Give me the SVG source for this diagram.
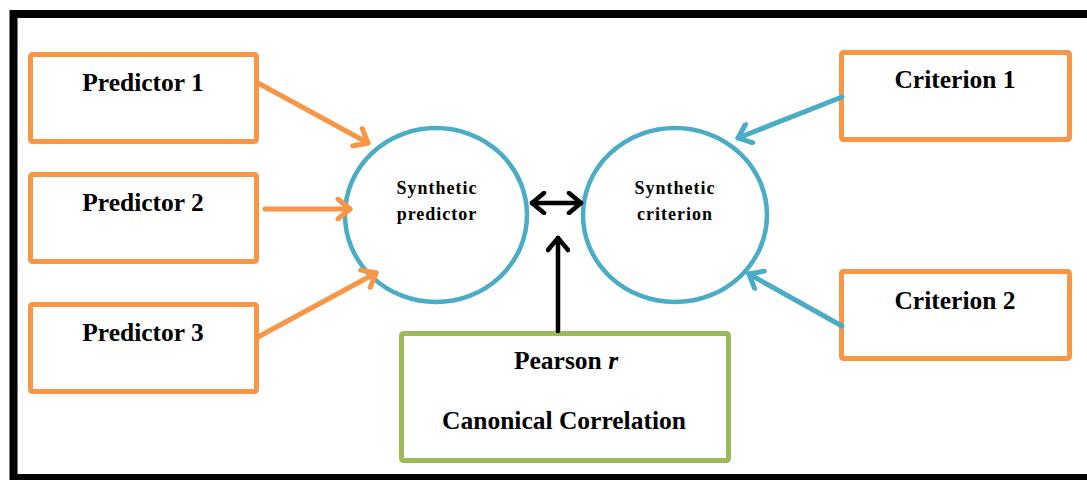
<svg xmlns="http://www.w3.org/2000/svg" width="1087" height="480" viewBox="0 0 1087 480">
  <style>
    .box { fill: #ffffff; stroke: #F79646; stroke-width: 5; }
    .res { fill: #ffffff; stroke: #9BBB59; stroke-width: 5; }
    .syn { fill: #ffffff; stroke: #4BACC6; stroke-width: 4.5; }
    .lbl { font-family: "Liberation Serif", "Times New Roman", serif; font-weight: bold; font-size: 25.5px; fill: #000000; text-anchor: middle; }
    .sml { font-family: "Liberation Serif", "Times New Roman", serif; font-weight: bold; font-size: 18px; letter-spacing: 1px; fill: #000000; text-anchor: middle; }
    .or { stroke: #F79646; stroke-width: 5; fill: none; stroke-linecap: round; }
    .bl { stroke: #4BACC6; stroke-width: 5; fill: none; stroke-linecap: round; }
    .bk { stroke: #000000; stroke-width: 4.5; fill: none; stroke-linecap: round; }
  </style>
  <defs>
    <marker id="hOr" markerUnits="userSpaceOnUse" viewBox="-16 -12 20 24" refX="0" refY="0" markerWidth="20" markerHeight="24" orient="auto">
      <path d="M-12,-10 L0,0 L-12,10" fill="none" stroke="#F79646" stroke-width="5" stroke-linecap="round" stroke-linejoin="round"/>
    </marker>
    <marker id="hBl" markerUnits="userSpaceOnUse" viewBox="-16 -12 20 24" refX="0" refY="0" markerWidth="20" markerHeight="24" orient="auto">
      <path d="M-12,-10 L0,0 L-12,10" fill="none" stroke="#4BACC6" stroke-width="5" stroke-linecap="round" stroke-linejoin="round"/>
    </marker>
    <marker id="hBk" markerUnits="userSpaceOnUse" viewBox="-16 -12 20 24" refX="0" refY="0" markerWidth="20" markerHeight="24" orient="auto-start-reverse">
      <path d="M-12,-10 L0,0 L-12,10" fill="none" stroke="#000000" stroke-width="4.5" stroke-linecap="round" stroke-linejoin="round"/>
    </marker>
  </defs>

  <rect x="0" y="0" width="1087" height="480" fill="#ffffff"/>
  <!-- outer frame, running off the right edge -->
  <rect x="13.5" y="14" width="1100" height="464" fill="none" stroke="#000000" stroke-width="8"/>

  <g id="predictor1">
    <rect class="box" x="30.5" y="54.5" width="226" height="87" rx="2"/>
    <text class="lbl" x="143" y="91">Predictor 1</text>
  </g>
  <g id="predictor2">
    <rect class="box" x="30.5" y="174.5" width="226" height="87" rx="2"/>
    <text class="lbl" x="143" y="211">Predictor 2</text>
  </g>
  <g id="predictor3">
    <rect class="box" x="30.5" y="304.5" width="226" height="87" rx="2"/>
    <text class="lbl" x="143" y="341">Predictor 3</text>
  </g>

  <g id="criterion1">
    <rect class="box" x="841.5" y="52.5" width="228" height="87" rx="2"/>
    <text class="lbl" x="955" y="88">Criterion 1</text>
  </g>
  <g id="criterion2">
    <rect class="box" x="841.5" y="271.5" width="228" height="87" rx="2"/>
    <text class="lbl" x="955" y="309">Criterion 2</text>
  </g>

  <g id="synthetic-predictor">
    <ellipse class="syn" cx="436" cy="215" rx="91" ry="87"/>
    <text class="sml" x="437" y="194">Synthetic</text>
    <text class="sml" x="437" y="220">predictor</text>
  </g>
  <g id="synthetic-criterion">
    <ellipse class="syn" cx="675" cy="215" rx="92" ry="87"/>
    <text class="sml" x="675" y="194">Synthetic</text>
    <text class="sml" x="675" y="220">criterion</text>
  </g>

  <g id="correlation">
    <rect class="res" x="401.5" y="333.5" width="327" height="127" rx="2"/>
    <text class="lbl" x="566" y="369">Pearson <tspan font-style="italic">r</tspan></text>
    <text class="lbl" x="564" y="429">Canonical Correlation</text>
  </g>

  <g id="connectors">
    <path class="or" d="M258,83 L368,143" marker-end="url(#hOr)"/>
    <path class="or" d="M265,209 L350,209" marker-end="url(#hOr)"/>
    <path class="or" d="M258,337 L376,273" marker-end="url(#hOr)"/>
    <path class="bl" d="M842,97 L738,138" marker-end="url(#hBl)"/>
    <path class="bl" d="M842,326 L749,274" marker-end="url(#hBl)"/>
    <path class="bk" d="M532,203 L581,203" marker-start="url(#hBk)" marker-end="url(#hBk)"/>
    <path class="bk" d="M558,331 L558,238" marker-end="url(#hBk)"/>
  </g>
</svg>
